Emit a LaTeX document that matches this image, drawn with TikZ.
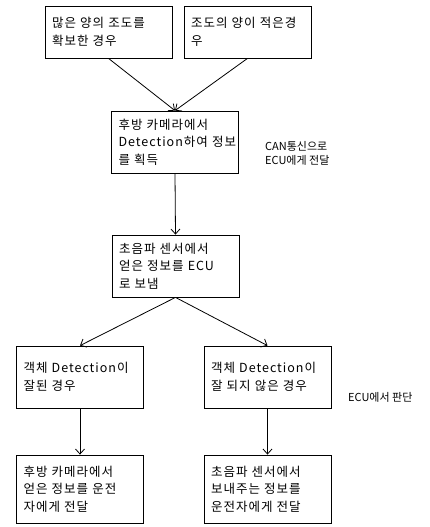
\documentclass[tikz,border=0pt]{standalone}
\usepackage{fontspec}
\setmainfont{Noto Sans CJK KR}
\newfontfamily\boxfont[LetterSpace=8,WordSpace=1.8]{Noto Sans CJK KR}
\usetikzlibrary{arrows.meta}
\begin{document}
\begin{tikzpicture}[x=1pt,y=-1pt,
	box/.style={draw,line width=0.8pt,minimum width=127pt,text width=113pt,inner xsep=7pt,align=left,font=\boxfont\fontsize{12.5}{17.5}\selectfont},
	note/.style={anchor=west,align=left,inner sep=0pt,font=\fontsize{11}{14}\selectfont},
	arr/.style={line width=0.8pt,-{Straight Barb[length=5pt,width=9pt]}}]
	
	\useasboundingbox (0,0) rectangle (429,527);
	
	% boxes
	\node[box,minimum height=52pt] (light) at (108.5,32) {많은~양의~조도를\\확보한~경우};
	\node[box,minimum height=52pt] (dark) at (247.5,32) {조도의~양이~적은경\\우};
	\node[box,minimum height=62pt] (camera) at (175,142) {후방~카메라에서\\Detection하여~정보\\를~획득};
	\node[box,minimum height=62pt] (sonar) at (175.5,266) {초음파~센서에서\\얻은~정보를~ECU\\로~보냄};
	\node[box,minimum height=62pt] (detok) at (80,377) {객체~Detection이\\잘된~경우};
	\node[box,minimum height=62pt] (detfail) at (267.5,377) {객체~Detection이\\잘~되지~않은~경우};
	\node[box,minimum height=68pt] (tocamera) at (80,489) {후방~카메라에서\\얻은~정보를~운전\\자에게~전달};
	\node[box,minimum height=68pt] (tosonar) at (267.5,489) {초음파~센서에서\\보내주는~정보를\\운전자에게~전달};
	
	% notes
	\node[note] (can) at (265,153) {CAN통신으로\\ECU에게 전달};
	\node[note] (judge) at (348,397) {ECU에서 판단};
	
	% arrows
	\draw[arr] (light.south) -- (camera.north);
	\draw[arr] (dark.south) -- (camera.north);
	\draw[arr] (camera.south) -- (sonar.north);
	\draw[arr] (sonar.south) -- (detok.north);
	\draw[arr] (sonar.south) -- (detfail.north);
	\draw[arr] (detok.south) -- (tocamera.north);
	\draw[arr] (detfail.south) -- (tosonar.north);
\end{tikzpicture}
\end{document}
